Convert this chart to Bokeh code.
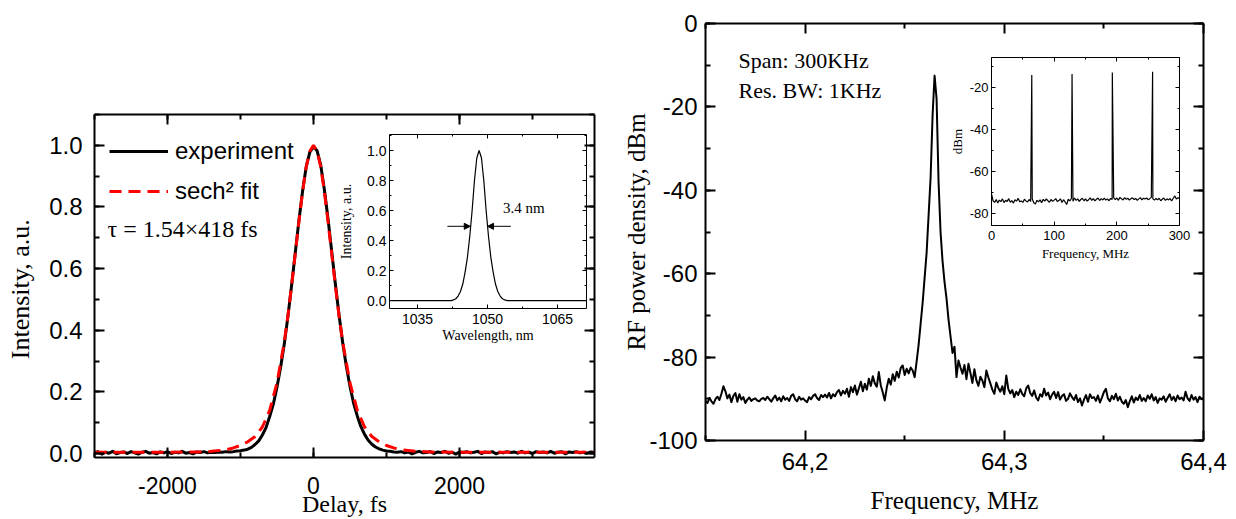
import numpy as np
from bokeh.plotting import figure
from bokeh.models import (Range1d, LinearAxis, SingleIntervalTicker, FixedTicker,
                          CustomJSTickFormatter, Legend, LegendItem, Label, Arrow,
                          NormalHead)
from bokeh.embed import file_html
from bokeh.resources import INLINE

# ---------------- data: autocorrelation (left main) ----------------
delay_exp = np.arange(-3000, 3851, 50)
intensity_exp = [
    0.003, 0.006, -0.002, 0.004, 0.001, 0.007, -0.001, 0.003, 0.005, 0.000,
    0.006, 0.002, -0.002, 0.004, 0.007, 0.001, 0.003, -0.001, 0.005, 0.002,
    0.006, 0.000, 0.004, 0.002, 0.007, 0.001, 0.003, -0.001, 0.005, 0.003,
    0.006, 0.002, 0.004, 0.003, 0.005, 0.004, 0.006, 0.005,
    0.006, 0.008, 0.009, 0.011, 0.014, 0.020, 0.029, 0.041, 0.060, 0.084,
    0.120, 0.160, 0.215, 0.280, 0.355, 0.445, 0.545, 0.650, 0.755, 0.850,
    0.930, 0.978, 0.995, 0.982, 0.935, 0.855, 0.760, 0.655, 0.550, 0.450,
    0.360, 0.283, 0.218, 0.163, 0.122, 0.087, 0.062, 0.043, 0.030, 0.021,
    0.015, 0.011, 0.008, 0.007, 0.005,
    0.004, 0.006, 0.002, 0.005, -0.001, 0.004, 0.007, 0.002, 0.003, 0.006,
    0.000, 0.005, 0.003, 0.007, 0.001, 0.004, -0.002, 0.005, 0.003, 0.006,
    0.002, 0.004, 0.007, 0.000, 0.005, 0.003, 0.006, -0.001, 0.004, 0.002,
    0.006, 0.003, 0.005, 0.001, 0.007, 0.002, 0.004, 0.000, 0.006, 0.003,
    0.005, 0.002, 0.007, 0.001, 0.004, 0.006, -0.001, 0.005, 0.003, 0.006,
    0.002, 0.004, 0.001, 0.005, 0.003,
]
delay_fit = [-3000, -2500, -2000, -1600, -1400, -1200, -1100, -1000, -900, -800,
             -700, -600, -500, -400, -350, -300, -250, -200, -150, -100, -50, 0,
             50, 100, 150, 200, 250, 300, 350, 400, 500, 600, 700, 800, 900, 1000,
             1100, 1200, 1400, 1600, 2000, 2500, 3000, 3850]
intensity_fit = [0.004, 0.004, 0.004, 0.005, 0.007, 0.012, 0.018, 0.026, 0.038, 0.055,
                 0.086, 0.140, 0.229, 0.362, 0.447, 0.545, 0.647, 0.751, 0.849, 0.929, 0.981, 1.0,
                 0.981, 0.929, 0.849, 0.751, 0.647, 0.545, 0.447, 0.362, 0.229, 0.140, 0.086, 0.055,
                 0.038, 0.026, 0.018, 0.012, 0.007, 0.005, 0.004, 0.004, 0.004, 0.004]

# ---------------- data: optical spectrum (left inset) ----------------
wavelength = [1029.0, 1042.2, 1042.7, 1043.2, 1043.7, 1044.2, 1044.7, 1045.2, 1045.7,
              1046.2, 1046.7, 1047.2, 1047.7, 1048.2, 1048.7, 1049.2, 1049.7, 1050.2,
              1050.7, 1051.2, 1051.7, 1052.2, 1052.7, 1053.2, 1053.7, 1054.2, 1071.2]
spectrum = [0.0, 0.0, 0.004, 0.012, 0.03, 0.06, 0.11, 0.19, 0.29, 0.43, 0.60, 0.80, 0.95,
            1.0, 0.95, 0.80, 0.60, 0.43, 0.29, 0.19, 0.11, 0.06, 0.03, 0.012, 0.004, 0.0, 0.0]

# ---------------- data: RF spectrum (right main) ----------------
rf_freq = np.linspace(64.150, 64.400, 251)
rf_dbm = [
    -90.5, -91.0, -89.8, -90.6, -91.2, -90.1, -89.5, -90.3, -88.8, -87.0,
    -88.2, -89.9, -89.0, -90.8, -89.3, -88.6, -90.7, -88.9, -90.2, -89.6,
    -91.0, -90.2, -89.7, -90.5, -90.1, -89.9, -90.4, -90.6, -90.0, -89.8,
    -90.3, -89.5, -90.1, -90.7, -89.9, -89.2, -90.4, -89.7, -90.6, -89.4,
    -90.2, -89.8, -90.5, -89.3, -88.9, -90.1, -90.6, -89.5, -90.2, -89.9,
    -90.4, -90.8, -89.6, -90.1, -89.3, -88.9, -89.8, -90.3, -89.1, -89.6,
    -89.0, -89.7, -88.6, -89.9, -88.9, -89.4, -88.4, -87.9, -89.2, -88.1,
    -88.8, -87.6, -89.5, -87.2, -88.4, -86.8, -89.0, -87.5, -85.9, -88.2,
    -86.4, -87.8, -85.2, -86.9, -84.6, -86.3, -87.1, -83.6, -86.8, -88.5,
    -90.4, -87.3, -85.2, -86.6, -84.1, -85.7, -83.5, -84.9, -82.6, -82.0,
    -84.3, -82.8, -83.9, -82.5, -83.2, -84.8, -81.0, -77.0, -72.0, -67.0,
    -61.0, -55.0, -46.0, -37.0, -22.0, -12.5, -18.0, -38.0, -50.0, -57.0,
    -62.0, -66.0, -71.0, -75.0, -79.0, -77.5, -84.8, -80.8, -82.5, -84.0,
    -81.9, -85.3, -81.6, -83.8, -86.2, -82.9, -85.6, -86.9, -84.7, -85.6,
    -87.2, -83.2, -84.9, -86.3, -87.8, -88.8, -86.1, -87.4, -88.3, -87.0,
    -88.9, -84.4, -87.6, -88.7, -87.9, -89.6, -88.3, -89.1, -87.7, -88.8,
    -89.4, -87.5, -86.8, -88.6, -89.3, -88.0, -89.7, -90.4, -88.9, -89.5,
    -87.6, -89.2, -88.5, -90.1, -89.0, -88.3, -89.8, -88.4, -90.2, -89.3,
    -88.9, -90.5, -90.0, -88.7, -89.6, -90.3, -89.1, -90.8, -89.9, -91.6,
    -90.2, -89.1, -90.7, -88.9, -89.8, -89.6, -90.5, -89.2, -90.9, -89.7,
    -88.4, -87.6, -89.9, -90.6, -89.3, -90.1, -88.8, -90.4, -89.5, -90.7,
    -91.2, -90.3, -92.0, -90.6, -89.4, -90.9, -89.7, -90.3, -89.1, -90.5,
    -89.8, -90.6, -89.2, -90.0, -88.9, -90.4, -89.6, -91.0, -89.9, -90.2,
    -89.4, -90.7, -89.8, -88.9, -90.3, -89.5, -90.6, -89.2, -90.1, -89.7,
    -90.4, -88.3, -89.9, -90.5, -89.1, -90.2, -89.6, -90.8, -89.5, -90.1,
    -90.0,
]
rf_xticks = [64.2, 64.3, 64.4]
rf_xminor = [64.15, 64.25, 64.35]
rf_xtick_labels = ["64,2", "64,3", "64,4"]

# ---------------- data: wide RF spectrum (right inset) ----------------
wide_freq = np.linspace(0, 300, 121)
wide_dbm = [
    -70.5, -73.8, -74.6, -73.2, -74.9, -73.5, -74.2, -72.9, -74.7, -73.6,
    -74.1, -72.8, -74.5, -73.7, -74.9, -73.3, -74.0, -72.6, -74.3, -73.9,
    -74.6, -73.1, -73.9, -74.4, -73.2, -74.1, -73.0, -74.8, -75.3, -73.6,
    -74.3, -73.4, -74.7, -73.1, -74.0, -72.9, -73.8, -74.5, -73.2, -74.1,
    -73.5, -72.8, -74.2, -73.7, -72.9, -74.6, -73.3, -74.4, -75.6, -73.1,
    -73.9, -72.7, -74.0, -72.5, -73.6, -72.9, -74.1, -73.2, -72.6, -73.8,
    -72.9, -74.0, -73.3, -72.4, -73.6, -72.8, -73.9, -73.1, -72.5, -73.7,
    -72.8, -73.4, -72.6, -73.5, -72.9, -73.8, -72.7, -73.2, -72.4, -73.3,
    -72.5, -73.6, -72.2, -72.9, -73.4, -72.3, -73.1, -72.6, -73.5, -72.8,
    -72.4, -73.2, -72.7, -73.6, -72.9, -72.3, -73.4, -72.6, -73.0, -72.5,
    -73.3, -72.8, -72.2, -72.9, -73.5, -72.7, -73.4, -72.6, -73.8, -73.1,
    -72.5, -73.6, -72.9, -73.4, -72.7, -73.9, -72.6, -71.5, -73.0, -72.4,
    -72.8,
]
comb_freq = [64.27, 128.54, 192.8, 257.07]
comb_peak = [-13.8, -13.4, -12.7, -12.3]

SANS = "Liberation Sans"
SERIF = "Liberation Serif"


def make_fig(fw, fh, xr, yr, left, right, top, bottom):
    p = figure(frame_width=fw, frame_height=fh, x_range=Range1d(*xr), y_range=Range1d(*yr),
               output_backend="svg", toolbar_location=None, tools="",
               x_axis_location=None, y_axis_location=None,
               min_border_left=left, min_border_right=right,
               min_border_top=top, min_border_bottom=bottom)
    p.outline_line_color = None
    p.xgrid.visible = False
    p.ygrid.visible = False
    p.background_fill_alpha = 0
    p.border_fill_alpha = 0
    return p


def add_axis(p, side, ticker, tick_size, tick_in, minor_in, lw, standoff,
             label=None, label_size=None, label_standoff=0, labels=True,
             formatter=None, overrides=None):
    ax = LinearAxis(ticker=ticker)
    ax.axis_line_width = lw
    ax.major_tick_line_width = lw
    ax.minor_tick_line_width = lw
    ax.major_tick_in = tick_in
    ax.major_tick_out = 0
    ax.minor_tick_in = minor_in
    ax.minor_tick_out = 0
    ax.major_label_standoff = standoff
    if labels:
        ax.major_label_text_font = SANS
        ax.major_label_text_font_size = tick_size
        ax.major_label_text_color = "black"
        if formatter is not None:
            ax.formatter = formatter
        if overrides is not None:
            ax.major_label_overrides = overrides
    else:
        ax.formatter = CustomJSTickFormatter(code="return ''")
        ax.major_label_text_font_size = "0px"
        ax.major_label_standoff = 0
    if label:
        ax.axis_label = label
        ax.axis_label_text_font = SERIF
        ax.axis_label_text_font_style = "normal"
        ax.axis_label_text_font_size = label_size
        ax.axis_label_text_color = "black"
        ax.axis_label_standoff = label_standoff
    p.add_layout(ax, side)
    return ax


def fmt(digits):
    return CustomJSTickFormatter(code="return tick.toFixed(%d)" % digits)


# ================= left main: autocorrelation =================
lm = make_fig(500, 343, (-3000, 3850), (-0.013, 1.1), 100, 6, 106, 60)
tx = SingleIntervalTicker(interval=2000, num_minor_ticks=2)
ty = SingleIntervalTicker(interval=0.2, num_minor_ticks=2)
add_axis(lm, "below", tx, "23px", 10, 5, 2, 19, label="Delay, fs", label_size="24px",
         label_standoff=-6, formatter=fmt(0))
add_axis(lm, "left", ty, "24px", 10, 5, 2, 12, label="Intensity,  a.u.", label_size="26px",
         label_standoff=11, formatter=fmt(1))
add_axis(lm, "above", tx, "0px", 10, 5, 2, 0, labels=False)
add_axis(lm, "right", ty, "0px", 10, 5, 2, 0, labels=False)

r_exp = lm.line(delay_exp, intensity_exp, line_color="black", line_width=3, line_join="round")
r_fit = lm.line(delay_fit, intensity_fit, line_color="#ff0000", line_width=3, line_dash="12 7")
legend = Legend(items=[LegendItem(label="experiment", renderers=[r_exp]),
                       LegendItem(label="sech² fit", renderers=[r_fit])],
                location=(15, 252))
legend.border_line_color = None
legend.background_fill_alpha = 0
legend.label_text_font = SANS
legend.label_text_font_size = "24px"
legend.label_text_color = "black"
legend.glyph_width = 59
legend.glyph_height = 20
legend.label_standoff = 7
legend.spacing = 12
legend.padding = 0
legend.margin = 0
lm.add_layout(legend)
lm.add_layout(Label(x=-2822, y=0.73, text="τ = 1.54×418 fs", text_font=SERIF,
                    text_font_size="24px", text_baseline="middle", text_color="black"))

# ================= left inset: optical spectrum =================
li = make_fig(197, 174, (1029, 1071.2), (-0.053, 1.107), 70, 6, 6, 39)
tix = SingleIntervalTicker(interval=15, num_minor_ticks=2)
tiy = SingleIntervalTicker(interval=0.2, num_minor_ticks=2)
add_axis(li, "below", tix, "14px", 4, 2, 1, 5, label="Wavelength, nm", label_size="14px",
         label_standoff=1, formatter=fmt(0))
add_axis(li, "left", tiy, "14px", 4, 2, 1, 3, label="Intensity, a.u.", label_size="14px",
         label_standoff=10, formatter=fmt(1))
add_axis(li, "above", tix, "0px", 4, 2, 1, 0, labels=False)
add_axis(li, "right", tiy, "0px", 4, 2, 1, 0, labels=False)
li.line(wavelength, spectrum, line_color="black", line_width=1.2)
head = dict(size=6, fill_color="black", line_color="black")
li.add_layout(Arrow(end=NormalHead(**head), x_start=1041.4, y_start=0.495,
                    x_end=1046.3, y_end=0.495, line_width=1, line_color="black"))
li.add_layout(Arrow(end=NormalHead(**head), x_start=1055.0, y_start=0.495,
                    x_end=1050.0, y_end=0.495, line_width=1, line_color="black"))
li.add_layout(Label(x=1053.3, y=0.62, text="3.4 nm", text_font=SERIF, text_font_size="15px",
                    text_baseline="middle", text_color="black"))

# ================= right main: RF spectrum =================
rm = make_fig(498, 417, (64.15, 64.4), (-100, 0), 100, 25, 15, 78)
rtx = FixedTicker(ticks=rf_xticks, minor_ticks=rf_xminor)
rty = SingleIntervalTicker(interval=20, num_minor_ticks=2)
add_axis(rm, "below", rtx, "24px", 10, 5, 2, 12, label="Frequency, MHz", label_size="25px",
         label_standoff=14, overrides=dict(zip(rf_xticks, rf_xtick_labels)))
add_axis(rm, "left", rty, "24px", 10, 5, 2, 8, label="RF power density, dBm", label_size="25px",
         label_standoff=-4, formatter=fmt(0))
add_axis(rm, "above", rtx, "0px", 10, 5, 2, 0, labels=False)
add_axis(rm, "right", rty, "0px", 10, 5, 2, 0, labels=False)
rm.line(rf_freq, rf_dbm, line_color="black", line_width=2, line_join="round")
rm.add_layout(Label(x=64.1666, y=-8.87, text="Span: 300KHz", text_font=SERIF,
                    text_font_size="22px", text_baseline="middle", text_color="black"))
rm.add_layout(Label(x=64.1666, y=-16.07, text="Res. BW: 1KHz", text_font=SERIF,
                    text_font_size="22px", text_baseline="middle", text_color="black"))

# ================= right inset: wide RF spectrum =================
ri = make_fig(188, 168, (0, 300), (-85.6, -5.5), 60, 16, 7, 40)
rix = SingleIntervalTicker(interval=100, num_minor_ticks=2)
riy = SingleIntervalTicker(interval=20, num_minor_ticks=2)
add_axis(ri, "below", rix, "13px", 4, 2, 1, 5, label="Frequency, MHz", label_size="13px",
         label_standoff=3, formatter=fmt(0))
add_axis(ri, "left", riy, "13px", 4, 2, 1, 3, label="dBm", label_size="13px",
         label_standoff=2, formatter=fmt(0))
add_axis(ri, "above", rix, "0px", 4, 2, 1, 0, labels=False)
add_axis(ri, "right", riy, "0px", 4, 2, 1, 0, labels=False)
wf = np.concatenate([wide_freq, comb_freq])
wd = np.concatenate([wide_dbm, comb_peak])
order = np.argsort(wf, kind="stable")
ri.line(wf[order], wd[order], line_color="black", line_width=1.2)

# ================= composition: independent roots, absolutely placed =================
placement = {lm: (-6, 8), rm: (605, 8), li: (319, 128), ri: (931, 50)}
for fig, (left, top) in placement.items():
    fig.styles = {"position": "absolute", "left": "%dpx" % left, "top": "%dpx" % top}
p = [lm, rm, li, ri]

open("out.html", "w").write(file_html(p, INLINE))
